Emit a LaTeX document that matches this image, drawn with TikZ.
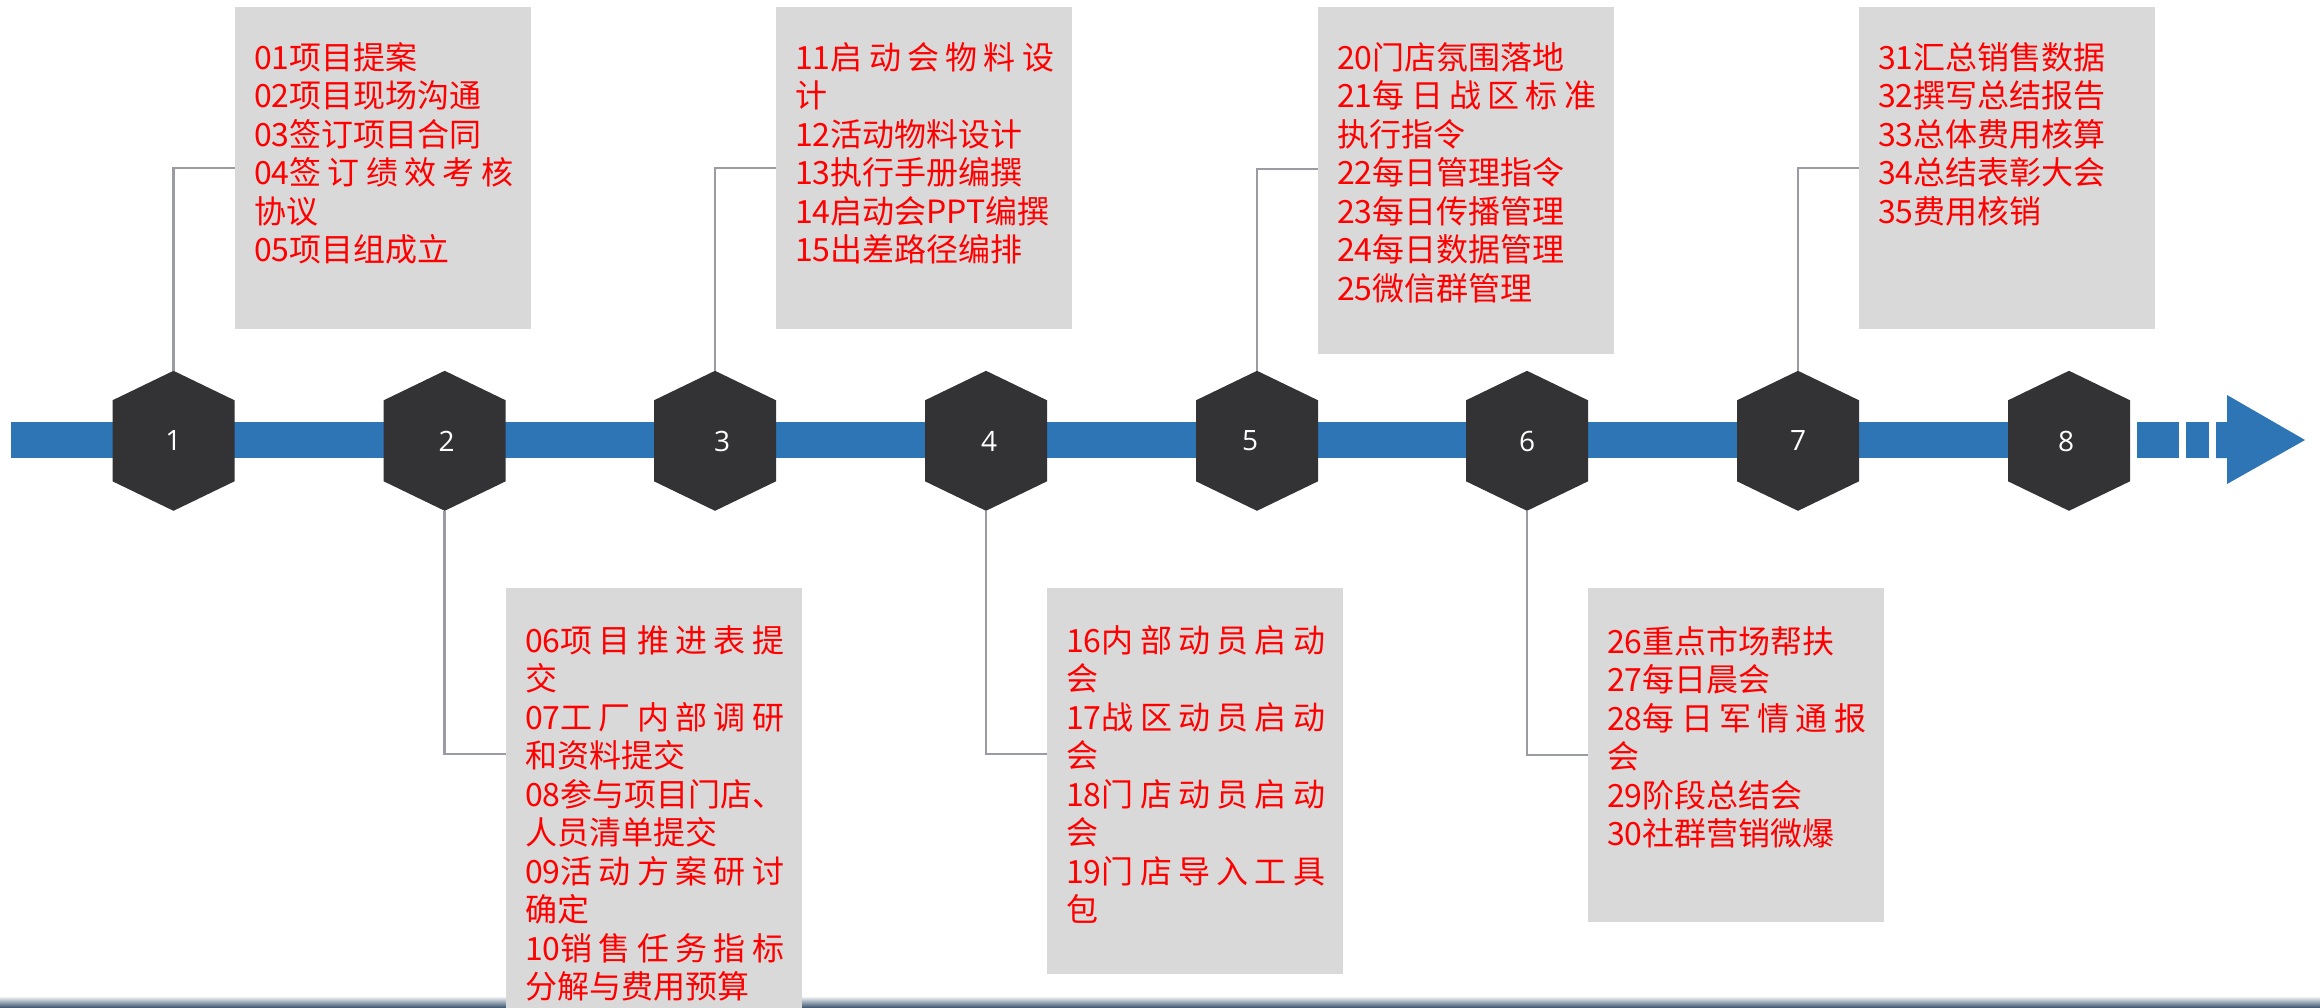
\documentclass[tikz,border=0pt]{standalone}
\usepackage{fontspec}
\newfontfamily\cjk{Noto Sans CJK SC}
\newfontfamily\numf{Open Sans}
\usetikzlibrary{calc}
\definecolor{barblue}{HTML}{2E75B6}
\definecolor{hexgray}{HTML}{333235}
\definecolor{boxgray}{HTML}{D9D9D9}
\definecolor{conngray}{HTML}{9B9BA3}
\definecolor{txtred}{HTML}{FF0000}
\definecolor{stripblue}{HTML}{34506B}
\pgfdeclarelayer{bg}
\pgfsetlayers{bg,main}
\newcommand\J[1]{\makebox[259pt][s]{#1}}
\newcommand\fs{\rule{0pt}{32pt}}
\begin{document}
\begin{tikzpicture}[x=1pt,y=-1pt,
  hexlbl/.style={minimum width=122pt,minimum height=140pt,inner sep=0pt,text=white,font=\numf\fontsize{28}{30}\selectfont},
  boxst/.style={fill=boxgray,inner sep=0pt,anchor=north west,minimum width=296pt},
  txt/.style={anchor=north west,inner sep=0pt,align=left,text=txtred,font=\cjk\fontsize{32}{38.5}\selectfont},
  conn/.style={draw=conngray,line width=2.5pt},
  hexfill/.style={fill=hexgray},
  barfill/.style={fill=barblue}]
\useasboundingbox (0,0) rectangle (2320,1008);

% hexagon labels
\node[hexlbl] (h1) at (173.5,441) {1};
\node[hexlbl] (h2) at (444.7,441) {\hspace*{4pt}2};
\node[hexlbl] (h3) at (715,441) {\hspace*{14pt}3};
\node[hexlbl] (h4) at (986,441) {\hspace*{6pt}4};
\node[hexlbl] (h5) at (1257,441) {5\hspace*{14pt}};
\node[hexlbl] (h6) at (1527,441) {6};
\node[hexlbl] (h7) at (1798,441) {7};
\node[hexlbl] (h8) at (2069,441) {8\hspace*{6pt}};

\begin{pgfonlayer}{bg}
\fill[white] (0,0) rectangle (2320,1008);
\shade[top color=white,bottom color=stripblue] (0,996) rectangle (2320,1008);
\fill[barfill] (11,422) rectangle (2069,458);
\foreach \i in {1,...,8}
  \fill[hexfill] (h\i.north) -- ++(61,29.5) -- ++(0,81) -- ++(-61,29.5) -- ++(-61,-29.5) -- ++(0,-81) -- cycle;
\end{pgfonlayer}

% dashed tail and arrow
\fill[barfill] (2137,422) rectangle (2179,458);
\fill[barfill] (2186,422) rectangle (2209,458);
\fill[barfill] (2216,422) -- (2227,422) -- (2227,395) -- (2305,440) -- (2227,484) -- (2227,458) -- (2216,458) -- cycle;

% boxes
\node[boxst,minimum height=322pt] (b1) at (235,7) {};
\node[boxst,minimum height=322pt] (b3) at (776,7) {};
\node[boxst,minimum height=347pt] (b5) at (1318,7) {};
\node[boxst,minimum height=322pt] (b7) at (1859,7) {};
\node[boxst,minimum height=420pt] (b2) at (506,588) {};
\node[boxst,minimum height=386pt] (b4) at (1047,588) {};
\node[boxst,minimum height=334pt] (b6) at (1588,588) {};

% connectors
\draw[conn] (h1.north) |- (b1.west);
\draw[conn] (h3.north) |- (b3.west);
\draw[conn] (h5.north) |- ([yshift=11.5pt]b5.west);
\draw[conn] (h7.north) |- (b7.west);
\draw[conn] (h2.south) |- ([yshift=44pt]b2.west);
\draw[conn] (h4.south) |- ([yshift=27pt]b4.west);
\draw[conn] (h6.south) |- (b6.west);

% texts
\node[txt] (t1) at ($(b1.north west)+(19,30)$) {\fs 01项目提案\\02项目现场沟通\\03签订项目合同\\\J{04签\hfil 订\hfil 绩\hfil 效\hfil 考\hfil 核}\\协议\\05项目组成立};
\node[txt] (t3) at ($(b3.north west)+(19,30)$) {\fs\J{11启\hfil 动\hfil 会\hfil 物\hfil 料\hfil 设}\\计\\12活动物料设计\\13执行手册编撰\\14启动会PPT编撰\\15出差路径编排};
\node[txt] (t5) at ($(b5.north west)+(19,30)$) {\fs 20门店氛围落地\\\J{21每\hfil 日\hfil 战\hfil 区\hfil 标\hfil 准}\\执行指令\\22每日管理指令\\23每日传播管理\\24每日数据管理\\25微信群管理};
\node[txt] (t7) at ($(b7.north west)+(19,30)$) {\fs 31汇总销售数据\\32撰写总结报告\\33总体费用核算\\34总结表彰大会\\35费用核销};
\node[txt] (t2) at ($(b2.north west)+(19,32)$) {\fs\J{06项\hfil 目\hfil 推\hfil 进\hfil 表\hfil 提}\\交\\\J{07工\hfil 厂\hfil 内\hfil 部\hfil 调\hfil 研}\\和资料提交\\\J{08参\hfil 与\hfil 项\hfil 目\hfil 门\hfil 店\hfil 、}\\人员清单提交\\\J{09活\hfil 动\hfil 方\hfil 案\hfil 研\hfil 讨}\\确定\\\J{10销\hfil 售\hfil 任\hfil 务\hfil 指\hfil 标}\\分解与费用预算};
\node[txt] (t4) at ($(b4.north west)+(19,32)$) {\fs\J{16内\hfil 部\hfil 动\hfil 员\hfil 启\hfil 动}\\会\\\J{17战\hfil 区\hfil 动\hfil 员\hfil 启\hfil 动}\\会\\\J{18门\hfil 店\hfil 动\hfil 员\hfil 启\hfil 动}\\会\\\J{19门\hfil 店\hfil 导\hfil 入\hfil 工\hfil 具}\\包};
\node[txt] (t6) at ($(b6.north west)+(19,33)$) {\fs 26重点市场帮扶\\27每日晨会\\\J{28每\hfil 日\hfil 军\hfil 情\hfil 通\hfil 报}\\会\\29阶段总结会\\30社群营销微爆};
\end{tikzpicture}
\end{document}
